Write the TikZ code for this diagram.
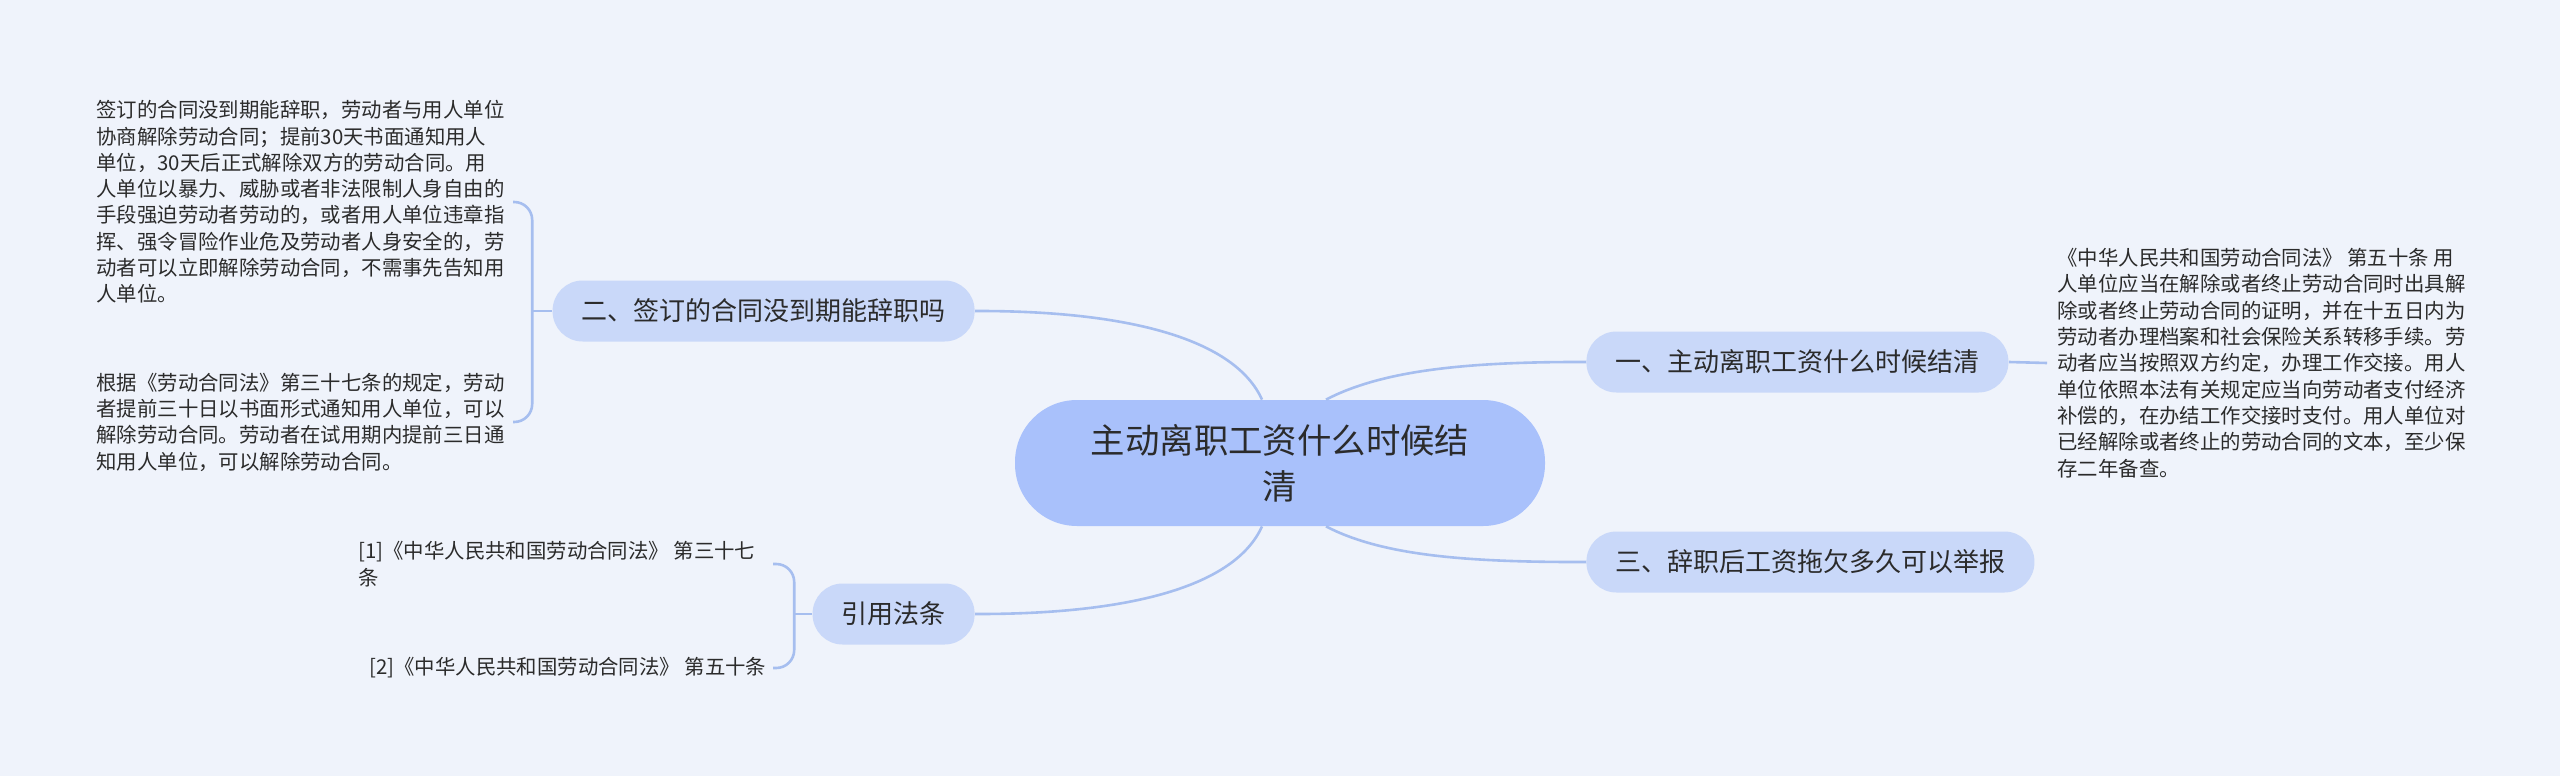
\documentclass[tikz,border=0pt]{standalone}
\usepackage{fontspec}
\setmainfont{Noto Sans CJK SC}
\usepackage{xcolor}
\usetikzlibrary{calc}
\definecolor{bgcol}{HTML}{EFF3FB}
\definecolor{rootfill}{HTML}{A9C1FB}
\definecolor{topicfill}{HTML}{C9D8F9}
\definecolor{linecol}{HTML}{A6BEEF}
\definecolor{txtcol}{HTML}{2B2B2B}

\begin{document}
\begin{tikzpicture}[x=0.5pt,y=-0.5pt,
  every node/.style={text=txtcol},
  root/.style={fill=rootfill,rounded corners=31pt,minimum width=265pt,minimum height=63pt,align=center,font=\fontsize{17.2pt}{23pt}\selectfont},
  topic/.style={fill=topicfill,rounded corners=15pt,minimum height=30.5pt,inner xsep=14.5pt,font=\fontsize{13pt}{16pt}\selectfont},
  leaf/.style={align=left,inner sep=0pt,font=\fontsize{10.2pt}{13.15pt}\selectfont},
  link/.style={draw=linecol,line width=1.3pt}]
        \fill[bgcol] (0,0) rectangle (2560,776);
        % centre and main topics
        \node[root] (root) at (1280,463) {主动离职工资什么时候结\\清};
        \node[topic,anchor=west] (b1) at (1586,362) {一、主动离职工资什么时候结清};
        \node[topic,anchor=west] (b3) at (1586,562) {三、辞职后工资拖欠多久可以举报};
        \node[topic,anchor=east] (b2) at (975,311) {二、签订的合同没到期能辞职吗};
        \node[topic,anchor=east] (b4) at (975,614) {引用法条};
        % details
        \node[leaf,anchor=west] (r1) at (2057,363) {《中华人民共和国劳动合同法》 第五十条 用\\
人单位应当在解除或者终止劳动合同时出具解\\
除或者终止劳动合同的证明，并在十五日内为\\
劳动者办理档案和社会保险关系转移手续。劳\\
动者应当按照双方约定，办理工作交接。用人\\
单位依照本法有关规定应当向劳动者支付经济\\
补偿的，在办结工作交接时支付。用人单位对\\
已经解除或者终止的劳动合同的文本，至少保\\
存二年备查。};
        \node[leaf,anchor=west] (l1) at (96,202) {签订的合同没到期能辞职，劳动者与用人单位\\
协商解除劳动合同；提前30天书面通知用人\\
单位，30天后正式解除双方的劳动合同。用\\
人单位以暴力、威胁或者非法限制人身自由的\\
手段强迫劳动者劳动的，或者用人单位违章指\\
挥、强令冒险作业危及劳动者人身安全的，劳\\
动者可以立即解除劳动合同，不需事先告知用\\
人单位。};
        \node[leaf,anchor=west] (l2) at (96,422) {根据《劳动合同法》第三十七条的规定，劳动\\
者提前三十日以书面形式通知用人单位，可以\\
解除劳动合同。劳动者在试用期内提前三日通\\
知用人单位，可以解除劳动合同。};
        \node[leaf,anchor=west] (c1) at (358,564) {[1]《中华人民共和国劳动合同法》 第三十七\\条};
        \node[leaf,anchor=west] (c2) at (369,668) {[2]《中华人民共和国劳动合同法》 第五十条};
        % links from the centre
        \draw[link] ($(root.north)+(46,0)$) .. controls ($(root.north)+(100,-28)$) and ($(root.north)+(180,-38)$) .. (b1.west);
        \draw[link] ($(root.south)+(46,0)$) .. controls ($(root.south)+(100,28)$) and ($(root.south)+(180,36)$) .. (b3.west);
        \draw[link] ($(root.north)+(-18,0)$) .. controls ($(root.north)+(-45,-60)$) and ($(root.north)+(-150,-89)$) .. (b2.east);
        \draw[link] ($(root.south)+(-18,0)$) .. controls ($(root.south)+(-45,60)$) and ($(root.south)+(-150,88)$) .. (b4.east);
        % brackets
        \draw[link] (b1.east) -- ($(r1.west)+(-10,0)$);
        \coordinate (k2) at ($(b2.west)+(-20,0)$);
        \draw[link] (b2.west) -- (k2);
        \draw[link,rounded corners=9pt] ($(k2|-l1.east)+(-19,0)$) -| (k2|-l2.east) -- ++(-19,0);
        \coordinate (k4) at ($(b4.west)+(-18,0)$);
        \draw[link] (b4.west) -- (k4);
        \draw[link,rounded corners=9pt] ($(k4|-c1.east)+(-21,0)$) -| (k4|-c2.east) -- ++(-21,0);
\end{tikzpicture}
\end{document}
